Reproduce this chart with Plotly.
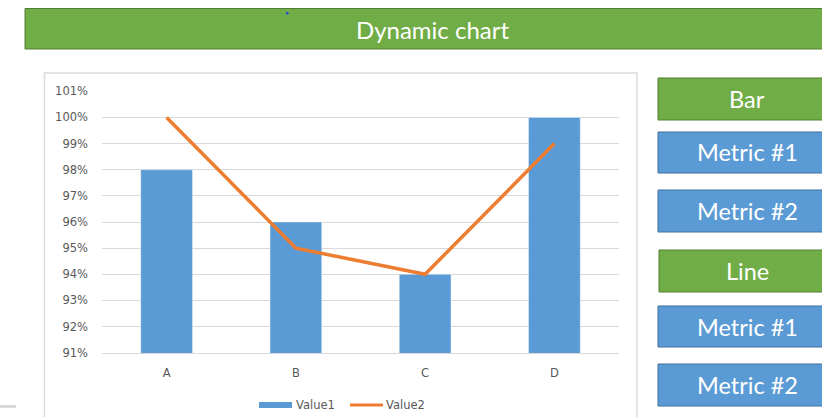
import plotly.graph_objects as go

# Chart data
categories = ["A", "B", "C", "D"]
value1 = [0.98, 0.96, 0.94, 1.00]
value2 = [1.00, 0.95, 0.94, 0.99]
y_ticks = [0.91, 0.92, 0.93, 0.94, 0.95, 0.96, 0.97, 0.98, 0.99, 1.00, 1.01]

W, H = 822, 417
BLUE = "#5B9BD5"
BLUE_EDGE = "#41719C"
GREEN = "#70AD47"
GREEN_EDGE = "#507E32"
ORANGE = "#ED7D31"
GRID = "#D9D9D9"
TXT = "#595959"
FONT = "Lato"
SMALL_FONT = "DejaVu Sans"


def fx(px):
    return px / W


def fy(py):
    return (H - py) / H


fig = go.Figure()
fig.add_trace(go.Bar(
    x=categories, y=value1, name="Value1", marker_color=BLUE,
    width=0.4, showlegend=False,
))
fig.add_trace(go.Scatter(
    x=categories, y=value2, name="Value2", mode="lines",
    line=dict(color=ORANGE, width=3.5), showlegend=False,
))

shapes = []
annotations = []

# chart area frame
shapes.append(dict(type="rect", xref="paper", yref="paper",
                   x0=fx(44.5), x1=fx(637), y0=fy(424), y1=fy(73),
                   line=dict(color="#DADADA", width=1.5), fillcolor="white", layer="below"))

# header banner
shapes.append(dict(type="rect", xref="paper", yref="paper",
                   x0=fx(25), x1=fx(826), y0=fy(49), y1=fy(8.5),
                   line=dict(color=GREEN_EDGE, width=1), fillcolor=GREEN))
shapes.append(dict(type="rect", xref="paper", yref="paper",
                   x0=fx(286), x1=fx(288.5), y0=fy(14.5), y1=fy(12),
                   line=dict(width=0), fillcolor="#2F4FD8"))
annotations.append(dict(text="Dynamic chart", xref="paper", yref="paper",
                        x=fx(432), y=fy(29), showarrow=False,
                        font=dict(family=FONT, size=24, color="white"),
                        xanchor="center", yanchor="middle"))

# selector buttons on the right
buttons = [
    ("Bar", 78, 120, GREEN, GREEN_EDGE, 658),
    ("Metric #1", 132, 173, BLUE, BLUE_EDGE, 658),
    ("Metric #2", 190, 232, BLUE, BLUE_EDGE, 658),
    ("Line", 250, 292, GREEN, GREEN_EDGE, 659),
    ("Metric #1", 306, 347, BLUE, BLUE_EDGE, 658),
    ("Metric #2", 364, 406, BLUE, BLUE_EDGE, 658),
]
for label, top, bottom, fill, edge, left in buttons:
    shapes.append(dict(type="rect", xref="paper", yref="paper",
                       x0=fx(left), x1=fx(826), y0=fy(bottom), y1=fy(top),
                       line=dict(color=edge, width=1), fillcolor=fill))
    annotations.append(dict(text=label, xref="paper", yref="paper",
                            x=fx(747), y=fy((top + bottom) / 2), showarrow=False,
                            font=dict(family=FONT, size=23.5, color="white"),
                            xanchor="center", yanchor="middle"))

# legend drawn by hand
shapes.append(dict(type="rect", xref="paper", yref="paper",
                   x0=fx(259), x1=fx(292), y0=fy(408), y1=fy(402),
                   line=dict(width=0), fillcolor=BLUE))
shapes.append(dict(type="line", xref="paper", yref="paper",
                   x0=fx(350), x1=fx(383), y0=fy(405), y1=fy(405),
                   line=dict(color=ORANGE, width=3)))
annotations.append(dict(text="Value1", xref="paper", yref="paper",
                        x=fx(294), y=fy(405), showarrow=False,
                        font=dict(family=SMALL_FONT, size=11.5, color=TXT),
                        xanchor="left", yanchor="middle"))
annotations.append(dict(text="Value2", xref="paper", yref="paper",
                        x=fx(384), y=fy(405), showarrow=False,
                        font=dict(family=SMALL_FONT, size=11.5, color=TXT),
                        xanchor="left", yanchor="middle"))

# small rule at the lower left edge
shapes.append(dict(type="line", xref="paper", yref="paper",
                   x0=0, x1=fx(16), y0=fy(406.5), y1=fy(406.5),
                   line=dict(color="#D9D9D9", width=3)))

fig.update_layout(
    width=W, height=H,
    margin=dict(l=0, r=0, t=0, b=0, pad=0),
    paper_bgcolor="white", plot_bgcolor="rgba(0,0,0,0)",
    shapes=shapes, annotations=annotations,
    font=dict(family=SMALL_FONT, color=TXT),
    bargap=0.6,
)
fig.update_xaxes(
    domain=[fx(102), fx(619)], automargin=False,
    showgrid=False, showline=True, linecolor=GRID, linewidth=1,
    ticks="", tickfont=dict(size=11.5, color=TXT, family=SMALL_FONT),
    ticklabelstandoff=9,
)
fig.update_yaxes(
    domain=[fy(353), fy(91)], automargin=False,
    range=[0.9099, 1.0101],
    tickvals=y_ticks, tickformat=".0%",
    showgrid=True, gridcolor=GRID, gridwidth=1,
    zeroline=False, showline=False, ticks="",
    tickfont=dict(size=11.5, color=TXT, family=SMALL_FONT),
    ticklabelstandoff=13,
)

fig.write_html("out.html")
